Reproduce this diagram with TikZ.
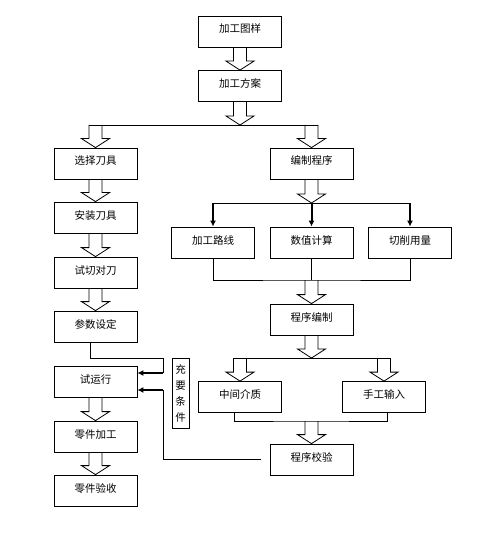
\documentclass[tikz,border=0pt]{standalone}
\usepackage{fontspec}
\setmainfont{Noto Sans CJK SC}
\usetikzlibrary{positioning,calc,arrows.meta}

\begin{document}
\begin{tikzpicture}[x=1pt,y=-1pt,line width=0.8pt]
  \tikzstyle{procbox}=[draw, minimum width=83pt, minimum height=31pt, inner sep=0pt,
text height=8pt, text depth=5pt, font=\fontsize{10.5}{12}\selectfont]
  \tikzstyle{hollow}=[to path={($(\tikztostart)+(-6.5,0)$) -- ($(\tikztotarget)+(-6.5,-9)$)
-- ($(\tikztotarget)+(-14,-9)$) -- (\tikztotarget) -- ($(\tikztotarget)+(14,-9)$)
-- ($(\tikztotarget)+(6.5,-9)$) -- ($(\tikztostart)+(6.5,0)$)}]
  \tikzstyle{heavy}=[line width=2pt, -{Latex[length=6pt,width=6pt]}]
  \useasboundingbox (0,0) rectangle (477,545);

  \node[procbox] (tuyang) at (240,31.5) {加工图样};
  \node[procbox] (fangan) at (240,86) {加工方案};
  \node[procbox] (xuandao) at (95.5,163.5) {选择刀具};
  \node[procbox] (anzhuang) at (95.5,217.5) {安装刀具};
  \node[procbox] (shiqie) at (95.5,272.5) {试切对刀};
  \node[procbox] (canshu) at (95.5,326.5) {参数设定};
  \node[procbox] (shiyun) at (95.5,381.5) {试运行};
  \node[procbox] (lingjian) at (95.5,436.5) {零件加工};
  \node[procbox] (yanshou) at (95.5,490.5) {零件验收};
  \node[procbox] (bianzhi) at (311.5,163.5) {编制程序};
  \node[procbox] (luxian) at (213,242.5) {加工路线};
  \node[procbox] (shuzhi) at (311.5,242.5) {数值计算};
  \node[procbox] (qiexiao) at (410,242.5) {切削用量};
  \node[procbox] (chengxu) at (311.5,319.5) {程序编制};
  \node[procbox] (jiezhi) at (240,397) {中间介质};
  \node[procbox] (shougong) at (384,397) {手工输入};
  \node[procbox] (jiaoyan) at (311.5,459.5) {程序校验};
  \node[draw, minimum width=17pt, minimum height=70pt, inner sep=0pt, align=center,
font=\fontsize{10.5}{16}\selectfont] (tiaojian) at (180.5,393) {充\\要\\条\\件};

  \coordinate (j1) at (240,125);
  \coordinate (j2) at (311.5,203);
  \coordinate (j3) at (311.5,280);
  \coordinate (j4) at (311.5,358);
  \coordinate (j5) at (311.5,421);
  \coordinate (bend) at (163,358);
  \coordinate (r1) at (163,373);
  \coordinate (r2) at (163,390);

  % left column
  \draw[hollow] (tuyang.south) to (fangan.north);
  \draw[hollow] (fangan.south) to (j1);
  \draw ($(xuandao.north |- j1)+(-6.5,0)$) -- ($(bianzhi.north |- j1)+(6.5,0)$);
  \draw[hollow] (xuandao.north |- j1) to (xuandao.north);
  \draw[hollow] (bianzhi.north |- j1) to (bianzhi.north);
  \foreach \a/\b in {xuandao/anzhuang, anzhuang/shiqie, shiqie/canshu,
    shiyun/lingjian, lingjian/yanshou}
    \draw[hollow] (\a.south) to (\b.north);
  \draw ([xshift=-5.5pt]canshu.south) |- (bend) -- (r1);
  \draw[heavy] (r1) -- (shiyun.east |- r1);
  \draw[heavy] (r2) -- (shiyun.east |- r2);
  \draw ([xshift=-9pt]jiaoyan.west) -| (r2);

  % right column
  \draw[hollow] (bianzhi.south) to (j2);
  \draw (luxian.north |- j2) -- (qiexiao.north |- j2);
  \draw[heavy] (luxian.north |- j2) -- (luxian.north);
  \draw[heavy] (shuzhi.north |- j2) -- (shuzhi.north);
  \draw[heavy] (qiexiao.north |- j2) -- (qiexiao.north);
  \draw (luxian.south) |- (j3) -| (qiexiao.south);
  \draw (shuzhi.south) -- (j3);
  \draw[hollow] (j3) to (chengxu.north);
  \draw[hollow] (chengxu.south) to (j4);
  \draw ($(jiezhi.north |- j4)+(-6.5,0)$) -- ($(shougong.north |- j4)+(6.5,0)$);
  \draw[hollow] (jiezhi.north |- j4) to (jiezhi.north);
  \draw[hollow] (shougong.north |- j4) to (shougong.north);
  \draw ([xshift=-6pt]jiezhi.south) |- (j5) -| ([xshift=3pt]shougong.south);
  \draw[hollow] (j5) to (jiaoyan.north);
\end{tikzpicture}
\end{document}
